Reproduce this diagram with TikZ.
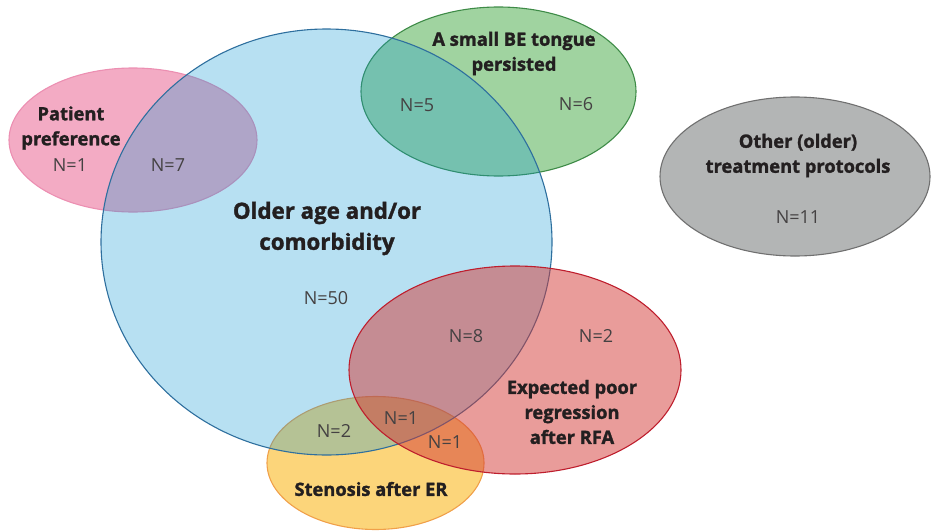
\documentclass[tikz,border=0pt]{standalone}
\usepackage{fontspec}
\setmainfont{Open Sans}[BoldFeatures={FakeBold=1.5}]
\usetikzlibrary{shapes.geometric}
\definecolor{pinkfill}{RGB}{243,171,196}
\definecolor{pinkline}{RGB}{236,143,178}
\definecolor{greenfill}{RGB}{160,211,160}
\definecolor{greenline}{RGB}{62,139,71}
\definecolor{yellowfill}{RGB}{252,213,122}
\definecolor{yellowline}{RGB}{240,160,74}
\definecolor{bluebase}{RGB}{18,152,212}
\definecolor{blueline}{RGB}{46,111,158}
\definecolor{redbase}{RGB}{211,57,53}
\definecolor{redline}{RGB}{190,30,45}
\definecolor{grayfill}{RGB}{179,181,181}
\definecolor{grayline}{RGB}{112,112,112}
\definecolor{ink}{RGB}{35,31,32}
\begin{document}
\begin{tikzpicture}[x=1pt,y=-1pt,
  grp/.style={ellipse,draw,line width=1.1pt,inner sep=0pt,outer sep=0pt},
  lbl/.style={font=\bfseries\fontsize{18.3}{25}\selectfont,text=ink,align=center},
  big/.style={font=\bfseries\fontsize{22.3}{31}\selectfont,text=ink,align=center},
  cnt/.style={font=\fontsize{18}{22}\selectfont,text=ink!85}]
\useasboundingbox (0,0) rectangle (931,530);
\node[grp,draw=pinkline,fill=pinkfill,minimum width=248pt,minimum height=144pt] (pref) at (133,140) {};
\node[grp,draw=greenline,fill=greenfill,minimum width=275pt,minimum height=169pt] (tongue) at (498.5,91.5) {};
\node[grp,draw=yellowline,fill=yellowfill,minimum width=217pt,minimum height=133pt] (sten) at (375.5,463) {};
\node[grp,draw=blueline,fill=bluebase,fill opacity=0.3,minimum width=451pt,minimum height=426pt] (age) at (326.5,242) {};
\node[grp,draw=redline,fill=redbase,fill opacity=0.5,minimum width=332pt,minimum height=208pt] (rfa) at (515,370) {};
\node[grp,draw=grayline,fill=grayfill,minimum width=270pt,minimum height=159pt] (other) at (795,176.5) {};
\node[lbl] (preflbl) at (71,128) {Patient\\preference};
\node[lbl] (tonguelbl) at (514,53.5) {A small BE tongue\\persisted};
\node[lbl] (otherlbl) at (798,155.5) {Other (older)\\treatment protocols};
\node[big] (agelbl) at (327,228.5) {Older age and/or\\comorbidity};
\node[lbl] (rfalbl) at (572,412) {Expected poor\\regression\\after RFA};
\node[lbl] (stenlbl) at (371,489) {Stenosis after ER};
\node[cnt] (n1) at (70,165) {N=1};
\node[cnt] (n7) at (168,165) {N=7};
\node[cnt] (n5) at (417,105) {N=5};
\node[cnt] (n6) at (576,104) {N=6};
\node[cnt] (n11) at (798,217) {N=11};
\node[cnt] (n50) at (326,298) {N=50};
\node[cnt] (n8) at (466,336) {N=8};
\node[cnt] (n2r) at (596,336) {N=2};
\node[cnt] (n1c) at (401,418) {N=1};
\node[cnt] (n1d) at (445,442) {N=1};
\node[cnt] (n2y) at (334,431) {N=2};
\end{tikzpicture}
\end{document}
